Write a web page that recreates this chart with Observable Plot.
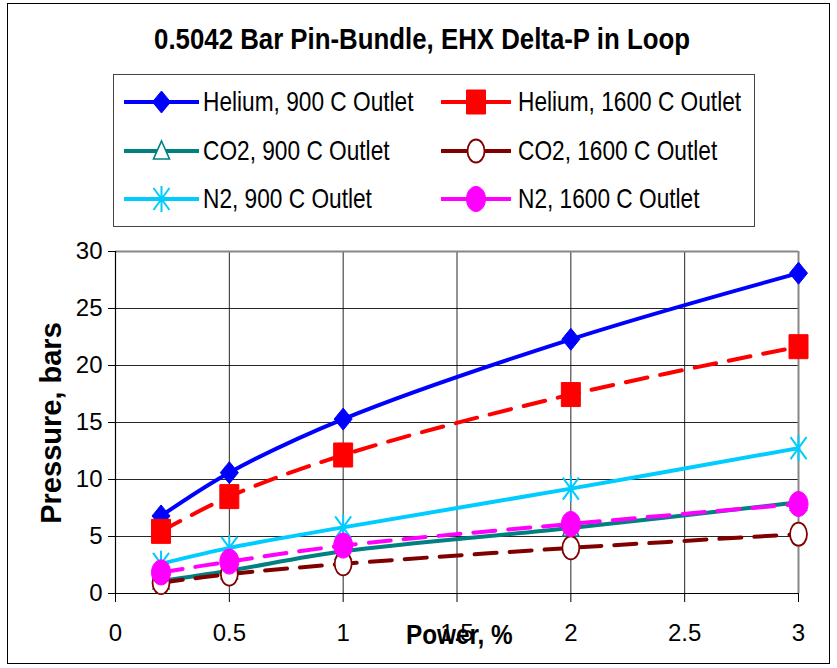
<!DOCTYPE html>
<html>
<head>
<meta charset="utf-8">
<script src="https://cdn.jsdelivr.net/npm/d3@7"></script>
<script src="https://cdn.jsdelivr.net/npm/@observablehq/plot@0.6"></script>
<style>
  body { margin: 0; background: #fff; font-family: "Liberation Sans", Arial, sans-serif; }
  #wrap { position: relative; width: 837px; height: 668px; overflow: hidden; background: #fff; }
  #wrap svg.plot { position: absolute; left: 0; top: 0; }
  #border { position: absolute; left: 7px; top: 3px; width: 823px; height: 661px; border: 1px solid #000; box-sizing: border-box; pointer-events: none; }
  #title { position: absolute; left: 422px; top: 22px; font-weight: bold; font-size: 29px; line-height: 34px; color: #000; white-space: nowrap; transform: translateX(-50%) scaleX(0.89); }
  #legend { position: absolute; left: 113px; top: 74px; width: 642px; height: 153px; border: 1px solid #444; box-sizing: border-box; background: #fff; }
  .item { position: absolute; height: 40px; }
  .item svg { position: absolute; top: 0; }
  .item span { position: absolute; top: 3px; white-space: nowrap; font-size: 28px; line-height: 34px; transform: scaleX(0.81); transform-origin: 0 50%; }
  #ylab { position: absolute; left: 51px; top: 423px; transform: translate(-50%, -50%) rotate(-90deg); font-weight: bold; font-size: 29px; white-space: nowrap; }
  #xlab { position: absolute; left: 406px; top: 618px; font-weight: bold; font-size: 27px; line-height: 34px; white-space: nowrap; transform: scaleX(0.9); transform-origin: 0 50%; }
</style>
</head>
<body>
<div id="wrap">
  <div id="title">0.5042 Bar Pin-Bundle, EHX Delta-P in Loop</div>
  <div id="legend"></div>
  <div id="ylab">Pressure, bars</div>
  <div id="xlab">Power, %</div>
  <div id="border"></div>
</div>
<script>
// ---- data ----
const power = [0.2, 0.5, 1, 2, 3];
const helium900 = [6.8, 10.6, 15.3, 22.3, 28.1];
const helium1600 = [5.45, 8.5, 12.15, 17.45, 21.65];
const co2_900 = [1.1, 2.0, 3.7, 5.75, 8.0];
const co2_1600 = [0.95, 1.7, 2.6, 4.0, 5.2];
const n2_900 = [2.6, 4.0, 5.8, 9.2, 12.75];
const n2_1600 = [1.85, 2.8, 4.2, 6.1, 7.85];
const seriesNames = ["Helium, 900 C Outlet", "Helium, 1600 C Outlet", "CO2, 900 C Outlet",
                     "CO2, 1600 C Outlet", "N2, 900 C Outlet", "N2, 1600 C Outlet"];
const seriesValues = [helium900, helium1600, co2_900, co2_1600, n2_900, n2_1600];
const xTicks = [0, 0.5, 1, 1.5, 2, 2.5, 3];
const yTicks = [0, 5, 10, 15, 20, 25, 30];

// ---- marker shapes ----
function ellipse(rx, ry) {
  return { draw(c) {
    const k = 0.5523;
    c.moveTo(rx, 0);
    c.bezierCurveTo(rx, ry * k, rx * k, ry, 0, ry);
    c.bezierCurveTo(-rx * k, ry, -rx, ry * k, -rx, 0);
    c.bezierCurveTo(-rx, -ry * k, -rx * k, -ry, 0, -ry);
    c.bezierCurveTo(rx * k, -ry, rx, -ry * k, rx, 0);
    c.closePath();
  }};
}
const diamond = { draw(c) { c.moveTo(0, -11); c.lineTo(9, 0); c.lineTo(0, 11); c.lineTo(-9, 0); c.closePath(); } };
const square = { draw(c) { c.rect(-9.5, -12, 19, 24); } };
const triangle = { draw(c) { c.moveTo(0, -10); c.lineTo(8, 8); c.lineTo(-8, 8); c.closePath(); } };
const star = { draw(c) { c.moveTo(-8, -11); c.lineTo(8, 11); c.moveTo(-8, 11); c.lineTo(8, -11); c.moveTo(0, -13); c.lineTo(0, 13); } };

// ---- styles per series ----
const styles = [
  { color: "#0000FF", dash: null, symbol: diamond, fill: "#0000FF", mstroke: "#0000FF", msw: 1 },
  { color: "#FF0000", dash: "22,13", symbol: square, fill: "#FF0000", mstroke: "#FF0000", msw: 1 },
  { color: "#008080", dash: null, symbol: triangle, fill: "#fff", mstroke: "#008080", msw: 1.6 },
  { color: "#800000", dash: "22,13", symbol: ellipse(8.5, 11.5), fill: "#fff", mstroke: "#800000", msw: 1.8 },
  { color: "#00CCFF", dash: null, symbol: star, fill: "none", mstroke: "#00CCFF", msw: 2 },
  { color: "#FF00FF", dash: "22,13", symbol: ellipse(9.5, 12.5), fill: "#FF00FF", mstroke: "#FF00FF", msw: 1 }
];

const tables = seriesValues.map((vals, i) => power.map((p, j) => ({ series: seriesNames[i], power: p, pressure: vals[j] })));

const seriesMarks = tables.flatMap((rows, i) => {
  const s = styles[i];
  return [
    Plot.line(rows, { x: "power", y: "pressure", stroke: s.color, strokeWidth: 4, strokeDasharray: s.dash, curve: "catmull-rom" }),
    Plot.dot(rows, { x: "power", y: "pressure", symbol: s.symbol, fill: s.fill, stroke: s.mstroke, strokeWidth: s.msw })
  ];
});

const chart = Plot.plot({
  width: 837,
  height: 668,
  marginLeft: 115,
  marginRight: 39,
  marginTop: 251,
  marginBottom: 75,
  style: { fontFamily: "'Liberation Sans', Arial, sans-serif", fontSize: "24px", background: "transparent", overflow: "visible" },
  x: { domain: [0, 3] },
  y: { domain: [0, 30] },
  marks: [
    Plot.gridY(yTicks.filter(v => v > 0 && v < 30), { stroke: "#000", strokeOpacity: 0.85, strokeWidth: 1 }),
    Plot.gridX(xTicks.filter(v => v > 0 && v < 3), { stroke: "#000", strokeOpacity: 0.85, strokeWidth: 1 }),
    Plot.ruleY([30], { stroke: "#888", strokeWidth: 2 }),
    Plot.ruleX([3], { stroke: "#888", strokeWidth: 2 }),
    Plot.axisY({ ticks: yTicks, tickSize: 7, tickPadding: 6, label: null, fontSize: 24, stroke: "#000" }),
    Plot.axisX({ ticks: xTicks, tickSize: 9, tickPadding: 21, label: null, fontSize: 24, tickFormat: d => String(d), stroke: "#000" }),
    Plot.ruleX([0], { stroke: "#000", strokeWidth: 1.2 }),
    Plot.ruleY([0], { stroke: "#000", strokeWidth: 1.2 }),
    ...seriesMarks
  ]
});
chart.classList.add("plot");
document.getElementById("wrap").insertBefore(chart, document.getElementById("title"));

// ---- legend ----
const legend = d3.select("#legend");
const legendPos = [
  { line: 10, w: 75, text: 89, top: 7 }, { line: 327, w: 70, text: 404, top: 7 },
  { line: 10, w: 75, text: 89, top: 56 }, { line: 327, w: 70, text: 404, top: 56 },
  { line: 10, w: 75, text: 89, top: 104 }, { line: 327, w: 70, text: 404, top: 104 }
];
seriesNames.forEach((name, i) => {
  const s = styles[i], pos = legendPos[i];
  const item = legend.append("div").attr("class", "item").style("left", "0px").style("top", pos.top + "px");
  const svg = item.append("svg").attr("width", pos.w).attr("height", 40).style("left", pos.line + "px").style("overflow", "visible");
  svg.append("line").attr("x1", 0).attr("x2", pos.w).attr("y1", 20).attr("y2", 20)
    .attr("stroke", s.color).attr("stroke-width", 4);
  const p = d3.path(); s.symbol.draw(p);
  svg.append("path").attr("d", p.toString()).attr("transform", `translate(${pos.w / 2},20)`)
    .attr("fill", s.fill).attr("stroke", s.mstroke).attr("stroke-width", s.msw);
  item.append("span").style("left", pos.text + "px").text(name);
});
</script>
</body>
</html>
